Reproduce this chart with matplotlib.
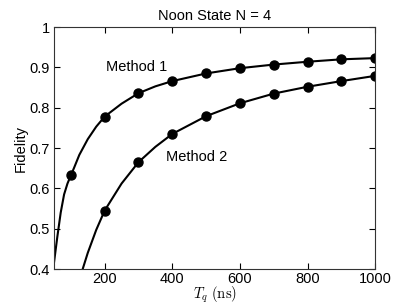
import matplotlib
matplotlib.use('Agg')
import matplotlib.pyplot as plt

plt.rcParams['font.family'] = ['Liberation Sans', 'DejaVu Sans']
plt.rcParams['mathtext.fontset'] = 'cm'

# curve samples
line1_x = [50, 60, 70, 80, 90, 100, 110, 125, 150, 175, 200, 250, 300, 350, 400, 500, 600, 700, 800, 900, 1000]
line1_y = [0.415, 0.48, 0.54, 0.585, 0.612, 0.632, 0.652, 0.683, 0.722, 0.753, 0.778, 0.81, 0.836, 0.853, 0.866, 0.885, 0.898, 0.907, 0.914, 0.920, 0.923]
line2_x = [135, 150, 175, 200, 250, 300, 350, 400, 500, 600, 700, 800, 900, 1000]
line2_y = [0.40, 0.44, 0.497, 0.545, 0.612, 0.665, 0.703, 0.735, 0.779, 0.811, 0.835, 0.852, 0.866, 0.879]

# marker points
m1_x = [100, 200, 300, 400, 500, 600, 700, 800, 900, 1000]
m1_y = [0.632, 0.778, 0.836, 0.866, 0.885, 0.898, 0.907, 0.914, 0.920, 0.923]
m2_x = [200, 300, 400, 500, 600, 700, 800, 900, 1000]
m2_y = [0.545, 0.665, 0.735, 0.779, 0.811, 0.835, 0.852, 0.866, 0.879]

fig = plt.figure(figsize=(4.15, 3.04), dpi=100)
ax = fig.add_axes([0.130, 0.115, 0.774, 0.796])

ax.plot(line1_x, line1_y, color='black', lw=1.5)
ax.plot(line2_x, line2_y, color='black', lw=1.5)
ax.plot(m1_x, m1_y, 'o', color='black', ms=6.5)
ax.plot(m2_x, m2_y, 'o', color='black', ms=6.5)

ax.text(203, 0.901, 'Method 1', fontsize=10.5, va='center')
ax.text(380, 0.677, 'Method 2', fontsize=10.5, va='center')

ax.set_xlim(50, 1000)
ax.set_ylim(0.4, 1)
ax.set_xticks([200, 400, 600, 800, 1000])
ax.set_yticks([0.4, 0.5, 0.6, 0.7, 0.8, 0.9, 1])
ax.set_yticklabels(['0.4', '0.5', '0.6', '0.7', '0.8', '0.9', '1'])
ax.tick_params(direction='in', top=True, right=True, labelsize=10.5, length=4, pad=3)
ax.tick_params(axis='x', pad=2)
for s in ax.spines.values():
    s.set_color('#333333')

ax.set_title('Noon State N = 4', fontsize=10.5, pad=5)
ax.set_xlabel(r'$T_q\ (\mathrm{ns})$', fontsize=10.5, labelpad=-1)
ax.set_ylabel('Fidelity', fontsize=10.5, labelpad=1)

plt.savefig('out.png', dpi=100)
